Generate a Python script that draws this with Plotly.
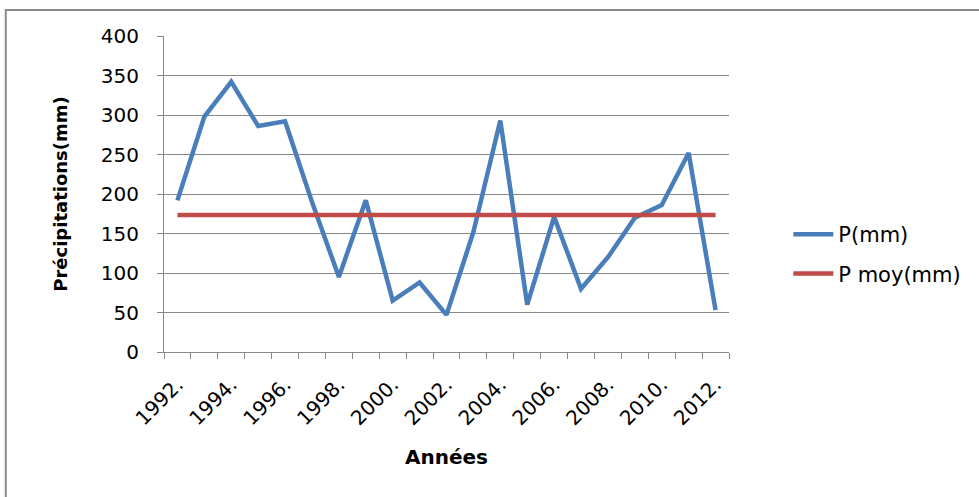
"""Précipitations annuelles 1992-2012 et moyenne."""

import plotly.graph_objects as go

# Data
years = [
    1992, 1993, 1994, 1995, 1996, 1997, 1998, 1999, 2000, 2001, 2002,
    2003, 2004, 2005, 2006, 2007, 2008, 2009, 2010, 2011, 2012,
]
p_mm = [
    192, 298, 342, 286, 292, 190, 95, 192, 65, 88, 47,
    152, 293, 60, 171, 80, 120, 170, 186, 252, 53,
]
p_moy_mm = [
    173.3, 173.3, 173.3, 173.3, 173.3, 173.3, 173.3, 173.3, 173.3, 173.3, 173.3,
    173.3, 173.3, 173.3, 173.3, 173.3, 173.3, 173.3, 173.3, 173.3, 173.3,
]
label_years = [1992, 1994, 1996, 1998, 2000, 2002, 2004, 2006, 2008, 2010, 2012]
label_text = [f"{y}." for y in label_years]
y_ticks = [0, 50, 100, 150, 200, 250, 300, 350, 400]

FONT = "DejaVu Sans"
GRID = "#878787"

fig = go.Figure()
fig.add_trace(
    go.Scatter(
        x=years, y=p_mm, name="P(mm)", mode="lines", legendgroup="p",
        line=dict(color="#4A7EBB", width=4.5),
    )
)
fig.add_trace(
    go.Scatter(
        x=years, y=p_moy_mm, name="P moy(mm)", mode="lines", legendgroup="moy",
        line=dict(color="#BE4B48", width=4.5),
    )
)

fig.update_layout(
    width=979,
    height=497,
    margin=dict(l=164, r=250, t=36, b=145),
    paper_bgcolor="white",
    plot_bgcolor="white",
    font=dict(family=FONT, size=20, color="#000000"),
    showlegend=True,
    legend=dict(
        x=1.105, y=0.31, xanchor="left", yanchor="middle",
        font=dict(family=FONT, size=21), tracegroupgap=9,
        itemwidth=40,
    ),
    shapes=[
        dict(
            type="rect", xref="paper", yref="paper",
            x0=-0.28, x1=1.6, y0=-0.6, y1=1.082,
            line=dict(color="#8c8c8c", width=2), layer="below",
        )
    ],
)

fig.update_xaxes(
    range=[1991.5, 2012.5],
    tickmode="array",
    tickvals=label_years,
    ticktext=label_text,
    tickangle=-45,
    ticks="",
    showgrid=False,
    zeroline=False,
    showline=True,
    linecolor=GRID,
    linewidth=1,
    ticklabelstandoff=12,
    tickfont=dict(family=FONT, size=20),
    minor=dict(tick0=1991.5, dtick=1, ticks="outside", ticklen=6,
               tickcolor=GRID, showgrid=False),
    title=dict(text="<b>Années</b>", font=dict(family=FONT, size=20), standoff=20),
)
fig.update_yaxes(
    range=[0, 400],
    tickmode="array",
    tickvals=y_ticks,
    ticks="outside",
    ticklen=6,
    tickcolor=GRID,
    showgrid=True,
    gridcolor=GRID,
    gridwidth=1,
    zeroline=False,
    showline=True,
    linecolor=GRID,
    linewidth=1,
    ticklabelstandoff=14,
    tickfont=dict(family=FONT, size=20),
    title=dict(text="<b>Précipitations(mm)</b>", font=dict(family=FONT, size=18),
               standoff=28),
)

# drop the page's default body margin so the frame sits like the original
fig.write_html(
    "out.html",
    config={"displayModeBar": False},
    post_script="document.body.style.margin = '0';",
)
